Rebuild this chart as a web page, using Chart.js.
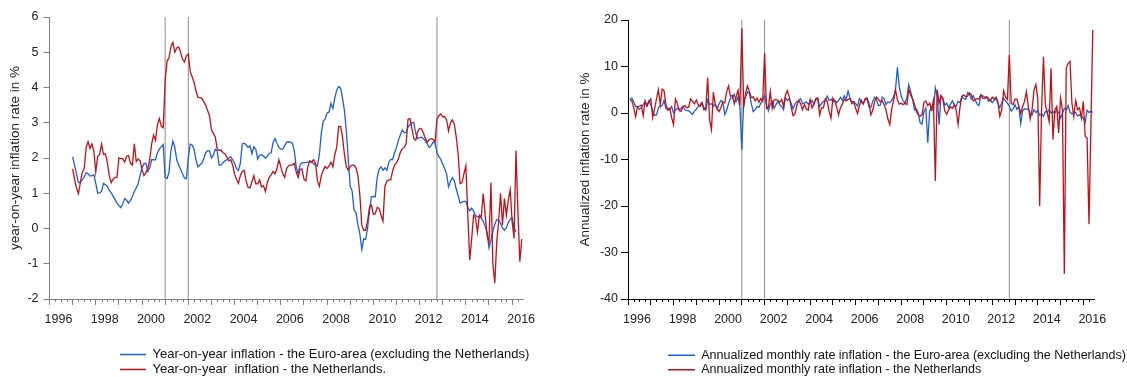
<!DOCTYPE html>
<html>
<head>
<meta charset="utf-8">
<script src="https://cdn.jsdelivr.net/npm/chart.js@4.4.1/dist/chart.umd.min.js"></script>
<style>
  body { margin: 0; background: #fff; }
  #wrap { position: relative; width: 1127px; height: 377px; }
  canvas { position: absolute; top: 0; }
  #yoy { left: 0; }
  #mom { left: 563px; }
</style>
</head>
<body>
<div id="wrap">
  <canvas id="yoy" width="563" height="377"></canvas>
  <canvas id="mom" width="564" height="377"></canvas>
</div>
<script>
// monthly series, the first value belongs to the start month
const yoyStart = '1997-01';
const momStart = '1996-02';

// year-on-year inflation in %
const yoyEuro = [
  2.03, 1.8, 1.55, 1.3, 1.32, 1.38, 1.46, 1.58, 1.55, 1.49, 1.5, 1.52,
  1.28, 1.0, 1.01, 1.05, 1.28, 1.24, 1.2, 1.08, 1.01, 0.92, 0.82, 0.72,
  0.65, 0.59, 0.7, 0.85, 0.8, 0.72, 0.8, 0.91, 1.05, 1.15, 1.27, 1.5,
  1.72, 1.84, 1.85, 1.62, 1.72, 1.95, 1.95, 1.95, 2.15, 2.25, 2.32, 2.38,
  1.45, 1.42, 1.6, 2.2, 2.48, 2.3, 1.95, 1.8, 1.68, 1.55, 1.43, 1.41,
  2.0, 2.39, 2.37, 2.25, 1.95, 1.75, 1.8, 1.85, 1.97, 2.15, 2.2, 2.2,
  2.0, 2.08, 2.25, 2.2, 1.8, 1.8, 1.87, 1.92, 1.95, 2.0, 2.04, 1.95,
  1.85, 1.7, 1.64, 1.85, 2.4, 2.42, 2.38, 2.3, 2.35, 2.12, 2.32, 2.25,
  1.97, 2.08, 2.1, 2.05, 2.0, 2.05, 2.13, 2.15, 2.45, 2.55, 2.42, 2.3,
  2.25, 2.25, 2.35, 2.45, 2.46, 2.45, 2.42, 2.2, 1.75, 1.55, 1.8, 1.87,
  1.87, 1.87, 1.88, 1.89, 1.9, 1.84, 1.8, 1.78, 2.1, 2.7, 3.05, 3.1,
  3.28, 3.3, 3.55, 3.4, 3.7, 3.92, 4.03, 3.98, 3.7, 3.35, 2.75, 1.95,
  1.2, 1.06, 0.52, 0.45, 0.1, -0.15, -0.6, -0.3, -0.31, 0.0, 0.5, 0.9,
  0.91, 0.9, 1.45, 1.68, 1.75, 1.65, 1.72, 1.65, 1.88, 1.96, 1.95, 2.15,
  2.3, 2.5, 2.65, 2.8, 2.72, 2.72, 2.88, 2.95, 3.0, 3.01, 2.7, 2.55,
  2.58, 2.59, 2.55, 2.48, 2.4, 2.3, 2.35, 2.45, 2.42, 2.15, 2.04, 1.96,
  1.82, 1.7, 1.55, 1.18, 1.33, 1.44, 1.36, 1.12, 0.93, 0.72, 0.75, 0.77,
  0.77, 0.6, 0.5, 0.58, 0.5, 0.37, 0.33, 0.33, 0.3, 0.2, 0.06, -0.1,
  -0.55, -0.33, -0.08, 0.12, 0.25, 0.24, 0.15, 0.02, -0.05, 0.02, 0.17, 0.26,
  0.3, 0.02, -0.09
];
const yoyNL = [
  1.69, 1.4, 1.15, 0.99, 1.3, 1.6, 1.7, 2.3, 2.46, 2.27, 2.4, 2.2,
  1.6, 2.05, 2.1, 2.39, 2.1, 2.12, 1.88, 1.5, 1.3, 1.4, 1.45, 1.45,
  2.0, 1.98, 1.98, 1.88, 2.05, 2.07, 1.85, 1.8, 2.4, 1.9, 1.97, 1.92,
  1.67, 1.5, 1.58, 1.7, 1.95, 2.4, 2.65, 2.5, 2.95, 3.12, 2.9, 2.86,
  4.2, 4.75, 4.84, 5.16, 5.28, 5.0, 5.12, 5.15, 5.0, 4.8, 4.72, 4.9,
  4.95, 4.45, 4.3, 4.15, 3.9, 3.72, 3.71, 3.7, 3.6, 3.5, 3.35, 3.2,
  2.8, 2.7, 2.6, 2.25, 2.22, 2.22, 2.15, 2.12, 2.02, 1.92, 1.95, 1.8,
  1.55, 1.4, 1.28, 1.5, 1.62, 1.65, 1.35, 1.17, 1.15, 1.32, 1.5, 1.27,
  1.27, 1.38, 1.18, 1.22, 1.05, 1.3, 1.45, 1.52, 1.62, 1.55, 1.7, 1.95,
  1.75, 1.55, 1.45, 1.7, 1.78, 1.8, 1.8, 1.85, 1.6, 1.45, 1.68, 1.69,
  1.4, 1.35, 1.75, 1.92, 1.88, 1.95, 1.85, 1.35, 1.2, 1.5, 1.65, 1.76,
  1.7, 1.78, 1.88, 1.75, 2.1, 2.3, 2.9, 2.9, 2.6, 2.1, 1.75, 1.65,
  1.76, 1.8, 1.8, 1.72, 1.5, 0.95, 0.1, -0.05, -0.05, 0.2, 0.6, 0.66,
  0.4, 0.42, 0.6, 0.57, 0.37, 0.21, 1.2, 1.34, 1.38, 1.38, 1.63, 1.8,
  1.86, 1.98, 2.16, 2.26, 2.3, 2.41, 3.1, 3.12, 2.85, 2.55, 2.5, 2.75,
  2.84, 2.83, 2.7, 2.55, 2.45, 2.52, 2.55, 2.53, 2.45, 3.1, 3.2, 3.25,
  3.17, 3.17, 3.08, 2.77, 3.0, 3.08, 2.96, 2.6, 2.1, 1.27, 1.3, 1.55,
  1.78, 0.4, -0.9, -0.3, 0.38, 0.3, -0.1, 0.38, 0.33, 0.99, 0.4, -0.2,
  -0.38, 1.3, -1.0, -1.55, -0.4, 0.2, 1.0, 0.1, 0.85, 0.38, 0.8, 1.1,
  0.2, -0.28, 2.21, 0.5, -0.94, -0.3
];

// annualized monthly inflation in %
const momEuro = [
  3.0, 3.2, 2.4, 1.4, 1.4, 0.8, 1.1, 1.8, 2.4, 1.6, 2.6,
  1.8, 0.5, -0.5, -0.4, 1.0, 1.6, 1.6, 2.7, 0.9, 1.0, 0.7, 1.4,
  0.1, 0.6, 1.0, 0.8, 1.0, 1.4, 0.7, 0.5, 0.5, 0.1, -0.3, 0.4,
  0.8, 1.4, 1.8, 2.3, 1.2, 0.6, 2.8, 1.8, 2.0, 1.5, 1.8, 0.8,
  2.0, 2.7, 2.3, -0.3, 0.6, 2.0, 3.2, 3.2, 4.0, 2.5, 3.4, 1.2,
  -7.9, 2.8, 3.4, 4.5, 4.2, 2.0, 0.3, 0.7, 1.4, 1.2, 2.1, 2.8,
  3.8, 1.8, 0.5, 1.9, 2.5, 1.0, 1.8, 2.5, 1.8, 1.4, 0.7, 3.3,
  2.7, 3.1, 2.1, 0.9, 1.9, 2.4, 2.7, 3.1, 2.0, 2.1, 2.4, 1.9,
  2.3, 2.7, 1.9, 2.9, 3.0, 1.4, 2.0, 2.5, 2.6, 3.6, 2.7, 3.0,
  2.4, 2.7, 2.2, 2.7, 3.4, 2.7, 3.7, 2.9, 4.7, 3.2, 2.4, 2.5,
  2.0, 1.5, 3.1, 2.4, 2.0, 2.8, 3.1, 1.4, 1.2, 2.5, 3.4, 2.9,
  1.6, 1.7, 3.4, 3.1, 1.8, 2.4, 2.2, 2.7, 3.4, 5.0, 9.8, 5.6,
  3.7, 2.6, 2.2, 3.2, 6.1, 4.6, 3.0, 0.7, 0.9, 0.0, -2.1, -2.4,
  0.3, 1.1, -6.4, 0.4, 1.3, 0.4, 5.4, 3.6, -2.5, 3.7, 3.2, 1.7,
  2.1, 1.1, 1.9, 2.6, 1.8, 1.4, 2.5, 2.2, 3.5, 3.1, 2.9, 4.4,
  4.1, 3.0, 3.7, 2.9, 1.9, 1.6, 3.9, 3.7, 3.4, 3.4, 2.5, 2.8,
  2.2, 2.7, 3.1, 2.1, 1.2, 2.1, 3.1, 2.6, 2.1, 1.5, 0.4, 0.9,
  1.8, 0.8, 1.4, -2.3, 0.5, 0.9, 0.8, 0.9, -0.1, -0.4, 0.7, 0.1,
  0.5, -0.5, -0.2, -0.7, 0.3, 0.2, 0.7, 0.0, 0.3, 0.0, 0.7, 0.1,
  -1.1, -0.1, 1.0, 0.6, 1.6, 0.2, -0.2, 0.1, 0.1, -0.6, -0.4, -0.7,
  -1.1, -2.0, 0.6, 0.1, 0.4, 0.1
];
const momNL = [
  2.9, 2.6, 1.2, -0.8, 1.3, 1.5, 1.7, -0.6, 2.6, 1.4, 2.4,
  3.0, -1.0, 0.9, 3.0, 5.0, 1.8, 5.1, 4.8, 1.8, 0.6, 1.0, -1.0,
  -2.5, 3.0, 2.0, 0.5, 0.4, 1.4, 1.6, 1.1, 1.3, 3.0, 2.5, 2.0,
  2.8, 1.8, 1.4, 2.1, 0.7, 1.0, 7.6, -1.5, -3.6, 4.5, 1.8, 1.0,
  0.3, 1.2, 2.4, 2.2, 4.6, 5.8, 3.6, 3.8, 2.0, 3.5, 4.9, 1.7,
  18.2, 1.2, 4.2, 5.8, 4.6, 3.3, 3.5, 2.6, 3.2, 2.3, 3.1, 2.5,
  12.9, 1.0, 1.2, 4.6, 1.0, 2.8, 2.9, 2.7, 2.3, 2.9, 1.5, 3.9,
  4.8, 3.4, 1.3, -0.6, -0.2, 1.6, 2.7, 2.0, 0.7, 1.8, 0.9, 0.6,
  2.9, 1.1, 1.9, 3.1, 3.3, -0.4, 1.1, 1.1, 3.0, 2.5, 0.4, -1.1,
  3.2, 2.5, 1.3, -0.4, 1.2, 1.9, 3.0, 2.6, 2.9, 3.1, 2.0, 2.3,
  1.0, -0.1, 1.6, 2.7, 1.9, 3.1, 3.2, 2.1, -0.4, 0.6, 2.4, 3.4,
  3.0, 2.4, 2.7, 1.8, 0.6, -1.3, -2.5, 0.9, 2.7, 5.0, 2.9, 1.9,
  2.1, 1.8, 2.1, 1.8, 5.0, 3.9, 3.0, 1.9, 0.4, -0.4, -0.7, -0.4,
  2.3, 2.6, 1.6, 2.1, 0.7, 2.7, -14.6, 5.0, 2.1, 3.7, 2.9, 0.4,
  -0.3, 0.7, 1.3, 1.0, 1.8, 0.6, -2.5, 1.3, 3.6, 3.9, 3.5, 3.6,
  4.3, 3.9, 2.6, 2.9, 3.1, 3.0, 3.9, 3.2, 3.1, 3.5, 3.2, 2.6,
  3.4, 3.0, 3.4, 2.4, -0.7, 0.7, 4.8, 3.4, 2.9, 12.5, 2.0, 1.8,
  3.0, 3.0, 1.4, -0.1, 1.4, 2.5, 4.6, 1.4, -1.3, 0.7, 4.9, 6.1,
  3.2, -20.0, 0.7, 12.1, 1.8, 0.0, -1.8, 9.6, -5.7, 0.7, 1.4, -4.3,
  3.2, 0.7, -34.6, 9.6, 10.7, 11.1, 2.1, -0.7, 2.7, 0.7, 1.1, -1.1,
  2.5, -5.0, -5.4, -23.9, -3.0, 17.9
];

// months marked with a vertical line
const eventMonths = ['2001-01', '2002-01', '2012-10'];

// yearly ticks, every other one labelled
const tickYears = [1996, 1997, 1998, 1999, 2000, 2001, 2002, 2003, 2004, 2005, 2006,
  2007, 2008, 2009, 2010, 2011, 2012, 2013, 2014, 2015, 2016];

const BLUE = '#1f5fd1';
const RED = '#bd1219';
const FONT = "'Liberation Sans', Arial, sans-serif";

function monthToX(ym) {
  const [y, m] = ym.split('-').map(Number);
  return y + (m - 1) / 12;
}

function toPoints(start, values) {
  const x0 = monthToX(start);
  return values.map((v, i) => ({ x: x0 + i / 12, y: v }));
}

function eventLines(yMin, yMax) {
  return eventMonths.map(ym => ({
    label: 'event',
    data: [{ x: monthToX(ym), y: yMin }, { x: monthToX(ym), y: yMax }],
    borderColor: '#8c8c8c',
    borderWidth: 1,
    order: 5
  }));
}

// quarter ticks on the time axis, and where the legend sits
const extras = {
  id: 'extras',
  afterLayout(chart, args, opts) {
    const lg = chart.legend;
    lg.left = opts.legendX;
    lg.right = lg.left + lg.width;
    lg.top = opts.legendY;
    lg.bottom = lg.top + lg.height;
  },
  afterDraw(chart, args, opts) {
    const x = chart.scales.x;
    const ctx = chart.ctx;
    ctx.save();
    ctx.strokeStyle = opts.color;
    ctx.lineWidth = 1;
    ctx.beginPath();
    for (let q = Math.ceil(x.min * 4); q <= x.max * 4; q++) {
      if (q % 4 === 0) continue;
      const px = Math.round(x.getPixelForValue(q / 4)) + 0.5;
      ctx.moveTo(px, x.top);
      ctx.lineTo(px, x.top + 3);
    }
    ctx.stroke();
    ctx.restore();
  }
};

function makeChart(id, cfg) {
  return new Chart(document.getElementById(id), {
    type: 'line',
    data: {
      datasets: [
        { label: cfg.labels[0], data: cfg.euro, borderColor: BLUE, pointBorderWidth: 1.5, order: 1 },
        { label: cfg.labels[1], data: cfg.nl, borderColor: RED, pointBorderWidth: 1.5, order: 0 },
        ...eventLines(cfg.yMin, cfg.yMax)
      ]
    },
    options: {
      responsive: false,
      animation: false,
      devicePixelRatio: 1,
      layout: { padding: cfg.padding },
      elements: {
        point: { radius: 0 },
        line: { borderWidth: 1.3, tension: 0 }
      },
      scales: {
        x: {
          type: 'linear',
          min: 1996,
          max: 2016.47,
          afterBuildTicks: s => { s.ticks = tickYears.map(v => ({ value: v })); },
          afterFit: s => { s.height = cfg.xHeight; },
          ticks: {
            callback: v => (v % 2 === 0 ? String(v) : ''),
            autoSkip: false,
            maxRotation: 0,
            labelOffset: 9,
            padding: 7,
            color: '#222',
            font: { family: FONT, size: 12.5 }
          },
          grid: { drawOnChartArea: false, tickLength: 6, tickColor: cfg.axisColor },
          border: { color: cfg.axisColor, width: 1 }
        },
        y: {
          min: cfg.yMin,
          max: cfg.yMax,
          afterFit: s => { s.width = cfg.yWidth; },
          ticks: {
            stepSize: cfg.yStep,
            padding: cfg.yPad,
            color: '#222',
            font: { family: FONT, size: 12.5 }
          },
          grid: { drawOnChartArea: false, tickLength: cfg.yTick, tickColor: cfg.axisColor },
          border: { color: cfg.axisColor, width: 1 },
          title: {
            display: true,
            text: cfg.yTitle,
            color: '#222',
            font: { family: FONT, size: 13.5 },
            padding: { top: cfg.titlePad, bottom: 0 }
          }
        }
      },
      plugins: {
        legend: {
          position: 'bottom',
          align: 'start',
          labels: {
            usePointStyle: true,
            pointStyle: 'line',
            pointStyleWidth: cfg.legendLine,
            padding: 2,
            color: '#111',
            font: { family: FONT, size: cfg.legendSize },
            filter: item => item.datasetIndex < 2,
            sort: (a, b) => a.datasetIndex - b.datasetIndex
          }
        },
        tooltip: { enabled: false },
        extras: { legendX: cfg.legendX, legendY: cfg.legendY, color: cfg.axisColor }
      }
    },
    plugins: [extras]
  });
}

makeChart('yoy', {
  labels: ['Year-on-year inflation - the Euro-area (excluding the Netherlands)',
           'Year-on-year  inflation - the Netherlands.'],
  euro: toPoints(yoyStart, yoyEuro),
  nl: toPoints(yoyStart, yoyNL),
  yMin: -2, yMax: 6, yStep: 1,
  yTitle: 'year-on-year inflation rate in %',
  padding: { left: 0, top: 17, right: 40, bottom: 0 },
  yWidth: 49.5, yTick: 6, yPad: 5, titlePad: 7,
  xHeight: 38,
  axisColor: '#808080',
  legendX: 118, legendY: 346, legendLine: 26, legendSize: 13
});

makeChart('mom', {
  labels: ['Annualized monthly rate inflation - the Euro-area (excluding the Netherlands)',
           'Annualized monthly rate inflation - the Netherlands'],
  euro: toPoints(momStart, momEuro),
  nl: toPoints(momStart, momNL),
  yMin: -40, yMax: 20, yStep: 10,
  yTitle: 'Annualized inflation rate in %',
  padding: { left: 0, top: 20, right: 33, bottom: 0 },
  yWidth: 65, yTick: 7, yPad: 3, titlePad: 14,
  xHeight: 39,
  axisColor: '#000',
  legendX: 103, legendY: 347, legendLine: 27, legendSize: 12.5
});
</script>
</body>
</html>
